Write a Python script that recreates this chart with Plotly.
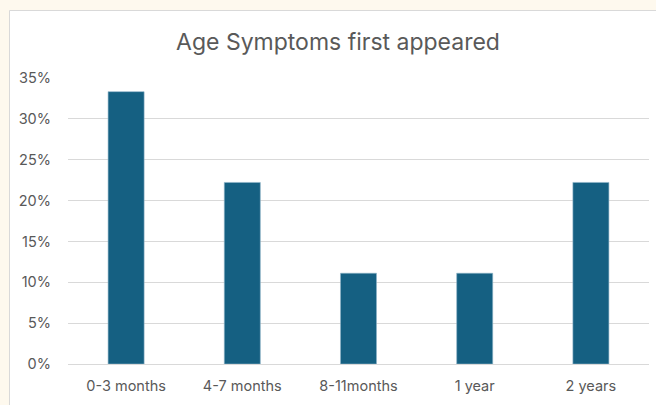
import plotly.graph_objects as go

categories = ["0-3 months", "4-7 months", "8-11months", "1 year", "2 years"]
values = [0.3333, 0.2222, 0.1111, 0.1111, 0.2222]
title_text = "Age Symptoms first appeared"

L, R, T, B = 68, 7, 78, 41
W, H = 656, 405
pw, ph = W - L - R, H - T - B

fig = go.Figure(go.Bar(
    x=categories, y=values,
    marker=dict(color="#156082", line=dict(color="#8FB3C8", width=0.6)),
    width=0.31,
))

fig.add_shape(type="rect", xref="paper", yref="paper",
              x0=(9.5 - L) / pw, x1=2, y0=-1, y1=(H - B - 10.5) / ph,
              fillcolor="white", line=dict(color="#D9D9D9", width=1), layer="below")

fig.update_layout(
    width=W, height=H,
    margin=dict(l=L, r=R, t=T, b=B),
    paper_bgcolor="#FEF9EE",
    plot_bgcolor="rgba(0,0,0,0)",
    font=dict(family="Inter, Noto Sans, sans-serif", color="#595959", size=14.5),
    title=dict(text=title_text, x=338 / W, xanchor="center", y=1 - 42 / H, yanchor="middle",
               font=dict(size=23, color="#595959")),
    showlegend=False,
    bargap=0.69,
    xaxis=dict(showgrid=False, showline=True, linecolor="#D9D9D9", linewidth=1,
               ticks="", tickfont=dict(size=14.5), ticklabelstandoff=9),
    yaxis=dict(range=[0, 0.35], dtick=0.05, tickformat=".0%", showgrid=True,
               gridcolor="#D9D9D9", gridwidth=1, zeroline=False, showline=False,
               ticks="", tickfont=dict(size=14.5), ticklabelstandoff=16),
)

fig.write_html("out.html", config={"displayModeBar": False},
               post_script="document.body.style.margin='0';document.body.style.overflow='hidden';")
